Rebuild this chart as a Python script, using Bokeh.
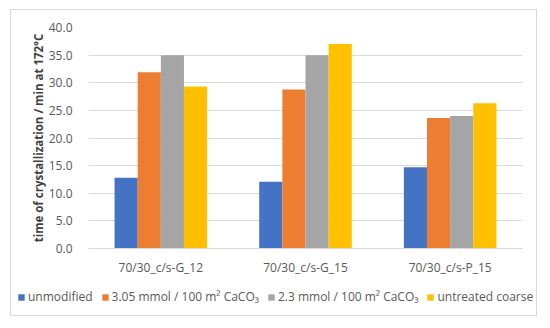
from bokeh.plotting import figure
from bokeh.models import ColumnDataSource, FactorRange, Legend, LegendItem, Range1d, SingleIntervalTicker, NumeralTickFormatter
from bokeh.transform import dodge
from bokeh.embed import file_html
from bokeh.resources import INLINE

categories = ["70/30_c/s-G_12", "70/30_c/s-G_15", "70/30_c/s-P_15"]
unmodified = [12.8, 12.1, 14.7]
mmol_305 = [31.9, 28.8, 23.6]
mmol_23 = [35.0, 35.0, 24.0]
untreated = [29.3, 37.0, 26.3]
series_names = ["unmodified", "3.05 mmol / 100 m² CaCO₃", "2.3 mmol / 100 m² CaCO₃", "untreated coarse"]
colors = ["#4472C4", "#ED7D31", "#A5A5A5", "#FFC000"]

src = ColumnDataSource(dict(cat=categories, s0=unmodified, s1=mmol_305, s2=mmol_23, s3=untreated))
keys = ["s0", "s1", "s2", "s3"]
offs = [-0.24, -0.08, 0.08, 0.24]

FONT = "Open Sans"
BORDER = "1px solid #d9d9d9"
p = figure(width=527, height=272, x_range=FactorRange(*categories), y_range=Range1d(0, 40),
           output_backend="svg", toolbar_location=None,
           min_border_left=77, min_border_right=16, min_border_top=17, min_border_bottom=34)
p.styles = {"border-top": BORDER, "border-left": BORDER, "border-right": BORDER,
            "margin-left": "10px", "margin-top": "9px"}
p.outline_line_color = None

for i, key in enumerate(keys):
    p.vbar(x=dodge("cat", offs[i], range=p.x_range), top=key, width=0.16, source=src,
           fill_color=colors[i], line_color=None)

p.yaxis.ticker = SingleIntervalTicker(interval=5)
p.yaxis.formatter = NumeralTickFormatter(format="0.0")
p.yaxis.axis_line_color = None
p.yaxis.major_tick_line_color = None
p.yaxis.minor_tick_line_color = None
p.yaxis.major_label_text_font = FONT
p.yaxis.major_label_text_font_size = "12px"
p.yaxis.major_label_text_color = "#595959"
p.yaxis.major_label_standoff = 10
p.yaxis.axis_label = "time of crystallization / min at 172°C"
p.yaxis.axis_label_text_font = FONT
p.yaxis.axis_label_text_font_size = "11.5px"
p.yaxis.axis_label_text_font_style = "bold"
p.yaxis.axis_label_text_color = "#404040"
p.yaxis.axis_label_standoff = 0

p.xaxis.axis_line_color = "#d9d9d9"
p.xaxis.major_tick_line_color = None
p.xaxis.minor_tick_line_color = None
p.xaxis.major_label_text_font = FONT
p.xaxis.major_label_text_font_size = "12px"
p.xaxis.major_label_text_color = "#595959"
p.xaxis.major_label_standoff = 4

p.xgrid.grid_line_color = None
p.ygrid.grid_line_color = "#d9d9d9"

# legend strip (bars here lie outside the visible y range; they only feed the legend)
q = figure(width=527, height=35, x_range=p.x_range, y_range=Range1d(100, 101),
           output_backend="svg", toolbar_location=None,
           x_axis_location=None, y_axis_location=None,
           min_border_left=0, min_border_right=0, min_border_top=0, min_border_bottom=0)
q.styles = {"border-bottom": BORDER, "border-left": BORDER, "border-right": BORDER,
            "margin-left": "10px"}
q.grid.visible = False
q.outline_line_color = None
leg_renderers = []
for i, key in enumerate(keys):
    leg_renderers.append(q.vbar(x=dodge("cat", offs[i], range=q.x_range), top=key, width=0.16,
                                source=src, fill_color=colors[i], line_color=None))
items = [LegendItem(label=series_names[i], renderers=[leg_renderers[i]]) for i in range(4)]
legend = Legend(items=items, orientation="horizontal", location=(6, 11),
                label_text_font=FONT, label_text_font_size="12px", label_text_color="#595959",
                glyph_width=8, glyph_height=8, label_standoff=3, spacing=8, padding=0, margin=0,
                border_line_color=None, background_fill_alpha=0)
q.add_layout(legend, "center")

open("out.html", "w").write(file_html([p, q], INLINE))
